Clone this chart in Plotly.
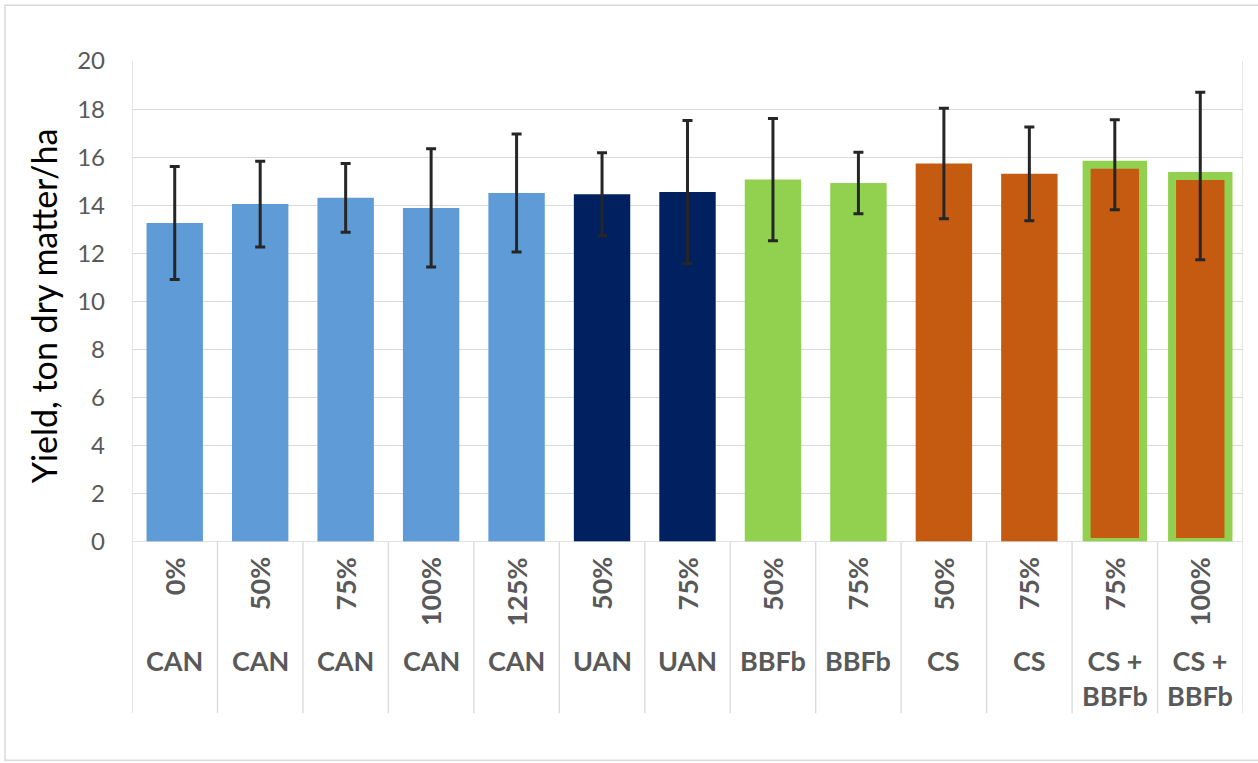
import plotly.graph_objects as go

# Treatment labels (two-level category axis)
rates = ["0%", "50%", "75%", "100%", "125%", "50%", "75%", "50%", "75%",
         "50%", "75%", "75%", "100%"]
products = ["CAN", "CAN", "CAN", "CAN", "CAN", "UAN", "UAN", "BBFb", "BBFb",
            "CS", "CS", "CS +<br>BBFb", "CS +<br>BBFb"]

# Mean yield (ton DM/ha) and standard deviation
yield_mean = [13.26, 14.05, 14.31, 13.89, 14.51, 14.46, 14.55, 15.07, 14.93,
              15.74, 15.31, 15.69, 15.22]
yield_sd = [2.35, 1.78, 1.43, 2.46, 2.45, 1.73, 2.98, 2.54, 1.28,
            2.30, 1.95, 1.87, 3.48]

C_CAN = "#5f9bd6"
C_UAN = "#002060"
C_BBF = "#92d050"
C_CS = "#c55a11"
bar_colors = [C_CAN] * 5 + [C_UAN] * 2 + [C_BBF] * 2 + [C_CS] * 4
edge_colors = ["rgba(0,0,0,0)"] * 11 + [C_BBF] * 2
edge_widths = [0] * 11 + [8, 8]

FONT = "Lato"
GRID = "#d9d9d9"
TICK = "#595959"

n = len(yield_mean)
x = list(range(n))

fig = go.Figure(
    go.Bar(
        x=x,
        y=yield_mean,
        marker=dict(color=bar_colors,
                    line=dict(color=edge_colors, width=edge_widths)),
        error_y=dict(type="data", array=yield_sd, visible=True,
                     color="#262626", thickness=3, width=5),
        hoverinfo="y",
    )
)

fig.update_layout(
    width=1258,
    height=763,
    margin=dict(l=132, r=15, t=61, b=221),
    paper_bgcolor="white",
    plot_bgcolor="white",
    bargap=0.34,
    showlegend=False,
    font=dict(family=FONT, color=TICK),
)

fig.update_xaxes(
    range=[-0.5, n - 0.5],
    showticklabels=False,
    showgrid=False,
    zeroline=False,
    showline=False,
    fixedrange=True,
)
fig.update_yaxes(
    range=[0, 20],
    dtick=2,
    tick0=0,
    showgrid=True,
    gridcolor=GRID,
    gridwidth=1.3,
    zeroline=False,
    showline=False,
    tickfont=dict(family=FONT, size=24, color=TICK),
    ticklabelstandoff=26,
    fixedrange=True,
)

shapes = []
sep_bottom = -0.356
# axis line along y = 0
shapes.append(dict(type="line", xref="x", yref="y", x0=-0.5, x1=n - 0.5,
                   y0=0, y1=0, line=dict(color=GRID, width=1.5)))
# category dividers below the axis; outer ones also frame the plot area
for k in range(n + 1):
    top = 1 if k in (0, n) else 0
    shapes.append(dict(type="line", xref="x", yref="paper",
                       x0=k - 0.5, x1=k - 0.5, y0=sep_bottom, y1=top,
                       line=dict(color=GRID, width=1.3)))
# chart frame
shapes.append(dict(type="rect", xref="paper", yref="paper",
                   x0=-127 / 1111, x1=1265 / 1111,
                   y0=-(760 - 541.7) / 481, y1=(541.7 - 5) / 481,
                   line=dict(color="#d9d9d9", width=1.5)))

annotations = []
for i in range(n):
    annotations.append(dict(
        x=i, xref="x", y=-0.028, yref="paper",
        text=f"<b>{rates[i]}</b>", textangle=-90,
        xanchor="center", yanchor="top", showarrow=False,
        font=dict(family=FONT, size=27, color=TICK),
    ))
    annotations.append(dict(
        x=i, xref="x", y=-0.208, yref="paper",
        text=f"<b>{products[i]}</b>",
        xanchor="center", yanchor="top", showarrow=False,
        font=dict(family=FONT, size=27, color=TICK),
    ))

annotations.append(dict(
    x=(43 - 132) / 1111, xref="paper", y=0.49, yref="paper",
    text="Yield, ton dry matter/ha", textangle=-90,
    xanchor="center", yanchor="middle", showarrow=False,
    font=dict(family=FONT, size=34, color="#000000"),
))

fig.update_layout(shapes=shapes, annotations=annotations)

fig.write_html("out.html")
